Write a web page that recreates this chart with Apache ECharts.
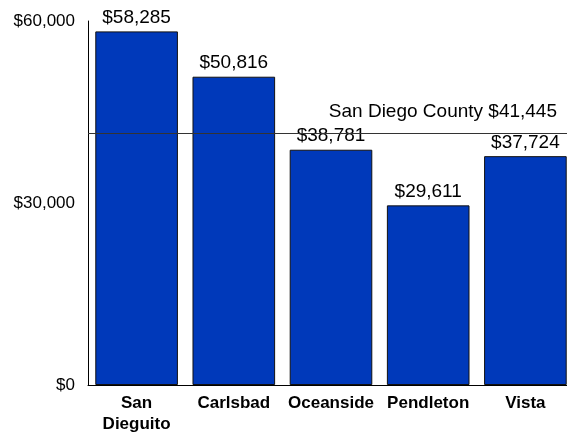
<!DOCTYPE html>
<html>
<head>
<meta charset="utf-8">
<script src="https://cdn.jsdelivr.net/npm/echarts@6/dist/echarts.min.js"></script>
<style>
  html, body { margin: 0; padding: 0; background: #fff; }
  #chart { width: 567px; height: 432px; }
</style>
</head>
<body>
<div id="chart"></div>
<script>
// Per-capita income by area, with the county-wide reference value
const areas = ['San Dieguito', 'Carlsbad', 'Oceanside', 'Pendleton', 'Vista'];
const incomes = [58285, 50816, 38781, 29611, 37724];
const countyLabel = 'San Diego County';
const countyIncome = 41445;
const yTicks = [0, 30000, 60000];

const FONT = '"Liberation Sans", Arial, sans-serif';
const money = v => '$' + v.toLocaleString('en-US');

const chart = echarts.init(document.getElementById('chart'), null, { renderer: 'canvas' });
chart.setOption({
  animation: false,
  backgroundColor: '#ffffff',
  // plot area runs slightly past the right edge of the canvas
  grid: { left: 88, width: 486, top: 21, bottom: 47, outerBoundsMode: 'none', containLabel: false },
  xAxis: {
    type: 'category',
    data: areas,
    axisLine: { show: true, lineStyle: { color: '#000', width: 1 } },
    axisTick: { show: false },
    axisLabel: {
      color: '#000',
      fontFamily: FONT,
      fontWeight: 'bold',
      fontSize: 17,
      lineHeight: 21,
      margin: 8,
      interval: 0,
      formatter: v => v.replace(' ', '\n')
    }
  },
  yAxis: {
    type: 'value',
    min: yTicks[0],
    max: yTicks[yTicks.length - 1],
    interval: yTicks[1] - yTicks[0],
    axisLine: { show: true, lineStyle: { color: '#000', width: 1 } },
    axisTick: { show: false },
    splitLine: { show: false },
    axisLabel: {
      color: '#000',
      fontFamily: FONT,
      fontSize: 17,
      margin: 13,
      formatter: v => money(v)
    }
  },
  series: [{
    type: 'bar',
    data: incomes,
    barCategoryGap: '15%',
    itemStyle: { color: '#0039BA', borderColor: '#111', borderWidth: 1 },
    label: {
      show: true,
      position: 'top',
      distance: 4,
      color: '#000',
      fontFamily: FONT,
      fontSize: 19,
      formatter: p => money(p.value)
    },
    markLine: {
      silent: true,
      symbol: 'none',
      lineStyle: { color: '#333', width: 1, type: 'solid' },
      label: {
        show: true,
        position: 'insideEndTop',
        distance: [17, 12],
        color: '#000',
        fontFamily: FONT,
        fontSize: 19,
        formatter: () => countyLabel + ' ' + money(countyIncome)
      },
      data: [{ yAxis: countyIncome }]
    }
  }]
});
</script>
</body>
</html>
